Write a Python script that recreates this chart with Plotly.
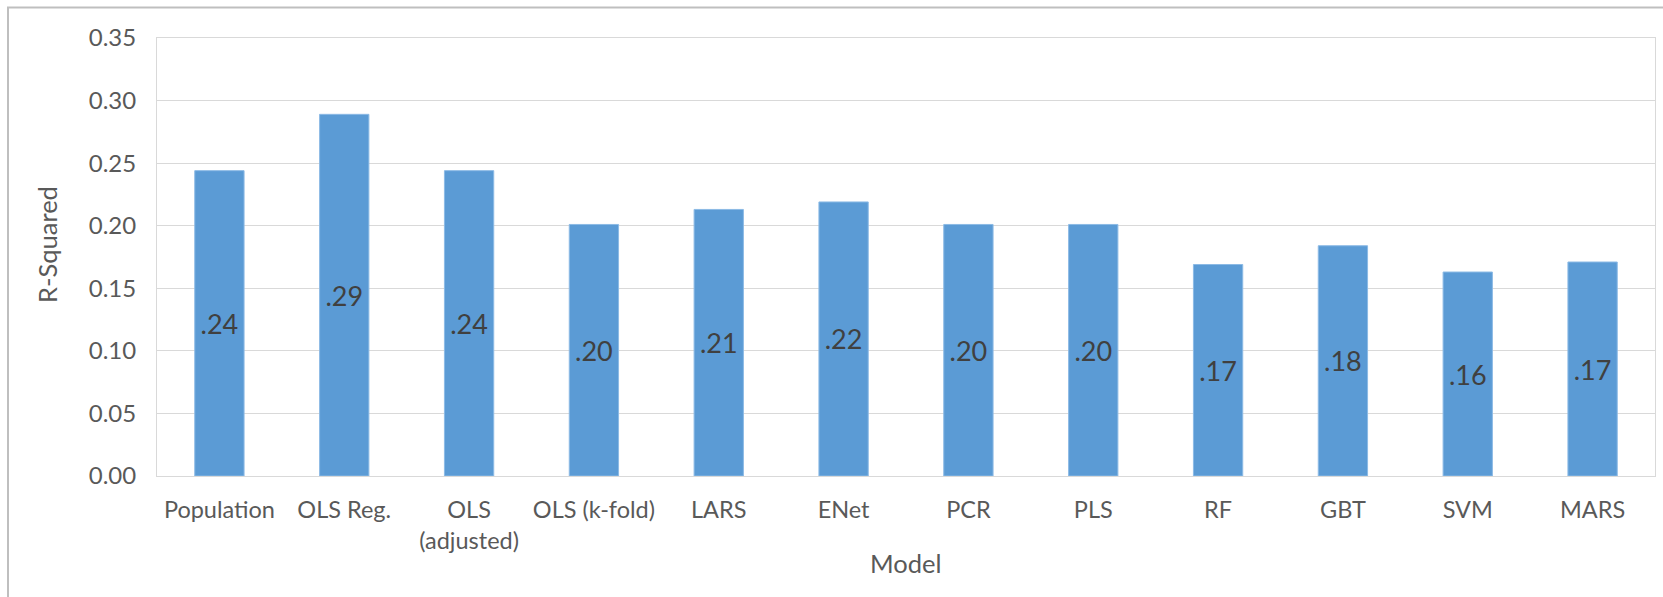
import plotly.graph_objects as go

# Model names (x categories) and R-squared per model
models = [
    "Population", "OLS Reg.", "OLS<br>(adjusted)", "OLS (k-fold)", "LARS", "ENet",
    "PCR", "PLS", "RF", "GBT", "SVM", "MARS",
]
r_squared = [0.244, 0.289, 0.244, 0.201, 0.213, 0.219, 0.201, 0.201, 0.169, 0.184, 0.163, 0.171]
y_ticks = [0.00, 0.05, 0.10, 0.15, 0.20, 0.25, 0.30, 0.35]

W, H = 1663, 597
L, R, T, B = 157, 8, 38, 121
PW, PH = W - L - R, H - T - B


def px_x(px):
    return (px - L) / PW


def px_y(py):
    return (H - B - py) / PH


labels = [f"{v:.2f}".lstrip("0") for v in r_squared]

FONT = "Lato, Calibri, 'Open Sans', sans-serif"
GRAY = "#595959"

fig = go.Figure(
    go.Bar(
        x=models,
        y=r_squared,
        marker=dict(color="#5B9BD5", line=dict(color="#8CBAE5", width=1)),
        text=labels,
        textposition="inside",
        insidetextanchor="middle",
        textangle=0,
        constraintext="none",
        textfont=dict(family=FONT, size=27, color="#404040"),
        hoverinfo="x+y",
    )
)

fig.update_layout(
    width=W,
    height=H,
    margin=dict(l=L, r=R, t=T, b=B),
    paper_bgcolor="white",
    plot_bgcolor="white",
    bargap=0.605,
    showlegend=False,
    font=dict(family=FONT, color=GRAY),
    xaxis=dict(
        type="category",
        showline=True,
        mirror=True,
        linecolor="#D9D9D9",
        linewidth=1,
        showgrid=False,
        ticks="",
        tickfont=dict(family=FONT, size=23.5, color=GRAY),
        ticklabelstandoff=13,
    ),
    yaxis=dict(
        range=[0, 0.35],
        tickvals=y_ticks,
        tickformat=".2f",
        showline=True,
        mirror=True,
        linecolor="#D9D9D9",
        linewidth=1,
        showgrid=True,
        gridcolor="#D9D9D9",
        gridwidth=1,
        zeroline=False,
        ticks="",
        tickfont=dict(family=FONT, size=24, color=GRAY),
        ticklabelstandoff=15,
    ),
    annotations=[
        dict(
            text="R-Squared", textangle=-90, showarrow=False,
            xref="paper", yref="paper", x=px_x(47), y=px_y(244),
            xanchor="center", yanchor="middle",
            font=dict(family=FONT, size=25.5, color=GRAY),
        ),
        dict(
            text="Model", showarrow=False,
            xref="paper", yref="paper", x=px_x(906), y=px_y(563),
            xanchor="center", yanchor="middle",
            font=dict(family=FONT, size=25.5, color=GRAY),
        ),
    ],
    shapes=[
        # chart frame around the whole figure
        dict(
            type="rect", xref="paper", yref="paper",
            x0=px_x(8), x1=px_x(1675), y0=px_y(620), y1=px_y(7.5),
            line=dict(color="#BFBFBF", width=2), fillcolor="rgba(0,0,0,0)",
            layer="above",
        ),
    ],
)

fig.write_html("out.html")
